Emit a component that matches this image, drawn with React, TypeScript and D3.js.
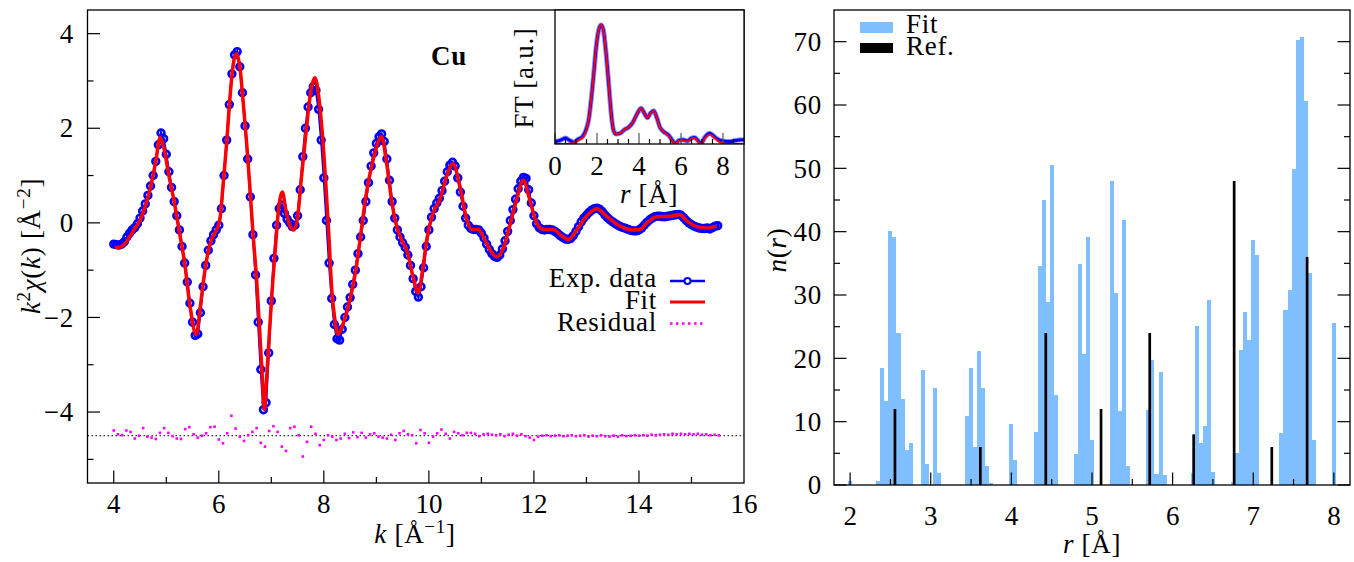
import React from 'react';
import * as d3 from 'd3';

const W = 1354, H = 562;
const serif = '"Liberation Serif", "Times New Roman", serif';

// k^2 chi(k), experimental, k = 4.00 .. 15.50 step 0.05
const kStart = 4.0, kStep = 0.05;
const expChi = [
  -0.45, -0.46, -0.47, -0.45, -0.40, -0.30, -0.22, -0.15, -0.10, -0.02,
  0.10, 0.25, 0.40, 0.58, 0.78, 1.00, 1.30, 1.65, 1.90, 1.78,
  1.45, 1.08, 0.75, 0.45, 0.15, -0.15, -0.50, -0.85, -1.25, -1.70,
  -2.10, -2.38, -2.35, -1.90, -1.35, -0.90, -0.58, -0.38, -0.25, -0.15,
  -0.05, 0.30, 1.00, 1.75, 2.50, 3.15, 3.55, 3.62, 3.30, 2.75,
  2.05, 1.35, 0.55, -0.25, -1.10, -2.10, -3.10, -3.95, -3.80, -2.75,
  -1.65, -0.75, -0.05, 0.30, 0.38, 0.20, 0.08, 0.00, -0.08, -0.05,
  0.15, 0.70, 1.40, 2.00, 2.45, 2.75, 2.88, 2.80, 2.40, 1.75,
  0.95, 0.05, -0.85, -1.60, -2.15, -2.45, -2.48, -2.25, -2.00, -1.78,
  -1.58, -1.30, -1.00, -0.65, -0.30, 0.05, 0.45, 0.85, 1.20, 1.48,
  1.68, 1.82, 1.88, 1.72, 1.35, 0.90, 0.45, 0.10, -0.15, -0.30,
  -0.42, -0.52, -0.68, -0.90, -1.18, -1.45, -1.57, -1.35, -0.95, -0.50,
  -0.15, 0.12, 0.30, 0.42, 0.52, 0.68, 0.88, 1.08, 1.22, 1.28,
  1.20, 0.95, 0.65, 0.35, 0.10, -0.05, -0.12, -0.14, -0.14, -0.15,
  -0.22, -0.32, -0.45, -0.56, -0.65, -0.71, -0.73, -0.68, -0.55, -0.38,
  -0.18, 0.05, 0.28, 0.50, 0.72, 0.88, 0.96, 0.94, 0.70, 0.42,
  0.15, -0.02, -0.10, -0.14, -0.15, -0.14, -0.14, -0.15, -0.18, -0.22,
  -0.27, -0.31, -0.34, -0.35, -0.33, -0.27, -0.18, -0.08, 0.02, 0.10,
  0.16, 0.22, 0.27, 0.30, 0.31, 0.29, 0.24, 0.17, 0.11, 0.06,
  0.02, -0.02, -0.05, -0.08, -0.10, -0.12, -0.14, -0.16, -0.17, -0.17,
  -0.15, -0.11, -0.05, 0.01, 0.06, 0.10, 0.13, 0.14, 0.14, 0.13,
  0.13, 0.14, 0.15, 0.16, 0.17, 0.18, 0.16, 0.11, 0.05, 0.00,
  -0.04, -0.07, -0.09, -0.11, -0.12, -0.12, -0.11, -0.13, -0.10, -0.07,
  -0.06,
];

// fit curve [k, k^2 chi]
const fitChi: [number, number][] = [
  [4.02, -0.52], [4.1, -0.52], [4.2, -0.45], [4.3, -0.3], [4.4, -0.12], [4.5, 0.05], [4.6, 0.35],
  [4.7, 0.75], [4.8, 1.3], [4.88, 1.8], [4.95, 1.6], [5.05, 1.0], [5.15, 0.45], [5.25, -0.2],
  [5.35, -0.85], [5.45, -1.75], [5.57, -2.36], [5.65, -1.75], [5.73, -1.05], [5.8, -0.6],
  [5.88, -0.3], [5.96, -0.14], [6.02, 0.07], [6.08, 0.78], [6.15, 1.69], [6.21, 2.61],
  [6.27, 3.31], [6.33, 3.58], [6.4, 3.31], [6.46, 2.61], [6.53, 1.69], [6.59, 0.78],
  [6.65, -0.2], [6.72, -1.2], [6.78, -2.3], [6.84, -3.5], [6.87, -3.95], [6.91, -3.3],
  [6.97, -2.2], [7.03, -1.2], [7.08, -0.5], [7.13, 0.2], [7.21, 0.65], [7.28, 0.25],
  [7.35, -0.05], [7.43, -0.15], [7.51, 0.21], [7.57, 0.92], [7.66, 1.9], [7.73, 2.61],
  [7.83, 3.07], [7.91, 2.61], [7.97, 1.9], [8.04, 0.78], [8.1, -0.35], [8.15, -1.4],
  [8.21, -2.05], [8.27, -2.36], [8.37, -2.12], [8.5, -1.62], [8.62, -0.92], [8.69, -0.35],
  [8.81, 0.63], [8.94, 1.34], [9.05, 1.75], [9.1, 1.82], [9.19, 1.3], [9.3, 0.4],
  [9.4, -0.12], [9.5, -0.4], [9.6, -0.65], [9.7, -1.15], [9.8, -1.48], [9.88, -1.0],
  [9.96, -0.35], [10.08, 0.21], [10.21, 0.49], [10.34, 0.99], [10.46, 1.25], [10.59, 0.78],
  [10.72, 0.07], [10.81, -0.14], [10.94, -0.14], [11.03, -0.28], [11.16, -0.56],
  [11.29, -0.72], [11.41, -0.56], [11.54, -0.07], [11.67, 0.49], [11.8, 0.9], [11.92, 0.49],
  [12.05, 0], [12.18, -0.14], [12.37, -0.14], [12.53, -0.28], [12.66, -0.35], [12.82, -0.14],
  [13.0, 0.14], [13.2, 0.3], [13.38, 0.14], [13.64, -0.07], [13.89, -0.15], [14.02, -0.14],
  [14.15, 0], [14.34, 0.13], [14.59, 0.14], [14.78, 0.17], [14.91, 0.04], [15.1, -0.08],
  [15.29, -0.11], [15.48, -0.07],
];

// residual, k = 4.00 .. 15.52 step 0.08, plotted around -4.5
const resStart = 4.0, resStep = 0.08, resOffset = -4.5;
const residual = [
  0.11, 0.03, 0.01, 0.11, 0.08, -0.06, 0.00, 0.16, -0.02, -0.04,
  -0.07, 0.06, 0.16, 0.06, -0.01, -0.06, -0.07, 0.14, 0.18, 0.03,
  -0.04, 0.00, 0.05, 0.18, 0.19, -0.08, -0.16, 0.05, 0.42, 0.15,
  -0.02, -0.11, 0.01, 0.08, 0.16, -0.15, -0.23, 0.10, 0.20, 0.08,
  -0.23, -0.32, 0.16, 0.19, 0.01, -0.44, -0.13, 0.19, 0.04, -0.20,
  -0.09, 0.01, -0.02, -0.09, -0.06, 0.04, -0.05, 0.07, -0.03, 0.06,
  -0.04, 0.03, 0.05, -0.02, -0.04, -0.06, 0.02, -0.09, 0.05, 0.10,
  0.03, 0.01, -0.16, 0.12, 0.05, -0.15, -0.02, 0.05, 0.13, 0.04,
  -0.06, 0.08, 0.05, 0.01, 0.06, 0.06, 0.04, -0.01, 0.03, 0.04,
  0.02, 0.01, 0.03, -0.01, 0.02, 0.04, 0.00, 0.03, -0.01, -0.04,
  -0.09, -0.02, 0.00, 0.01, -0.01, 0.00, 0.01, -0.01, 0.00, 0.01,
  -0.01, 0.00, 0.01, -0.02, 0.00, -0.01, 0.01, -0.01, -0.02, 0.00,
  -0.02, 0.01, -0.01, 0.00, 0.01, 0.00, 0.01, 0.00, 0.02, 0.01,
  0.02, 0.03, 0.02, 0.04, 0.03, 0.04, 0.03, 0.04, 0.03, 0.04,
  0.02, 0.03, 0.01, 0.02, 0.01,
];

// inset: Fourier transform magnitude
const ftExp: [number, number][] = [
  [0, 0.02], [0.25, 0.03], [0.5, 0.05], [0.7, 0.03], [0.9, 0.015], [1.1, 0.04], [1.3, 0.06],
  [1.5, 0.13], [1.6, 0.2], [1.73, 0.385], [1.85, 0.6], [1.97, 0.83], [2.1, 0.97], [2.2, 1.0],
  [2.3, 0.96], [2.44, 0.75], [2.56, 0.5], [2.68, 0.25], [2.78, 0.12], [2.9, 0.085], [3.1, 0.09],
  [3.3, 0.12], [3.5, 0.14], [3.7, 0.18], [3.9, 0.25], [4.1, 0.3], [4.25, 0.26], [4.4, 0.22],
  [4.55, 0.26], [4.7, 0.28], [4.85, 0.22], [5.0, 0.14], [5.2, 0.1], [5.4, 0.075], [5.55, 0.04],
  [5.73, 0.005], [5.9, 0.03], [6.1, 0.035], [6.3, 0.025], [6.5, 0.05], [6.65, 0.055],
  [6.8, 0.03], [6.95, 0.005], [7.15, 0.06], [7.37, 0.09], [7.6, 0.06], [7.8, 0.035],
  [8.0, 0.025], [8.3, 0.02], [8.6, 0.03], [9.0, 0.035],
];
const ftFit: [number, number][] = [
  [0, 0.0], [0.4, 0.0], [0.8, 0.005], [1.0, 0.02], [1.2, 0.04], [1.35, 0.06], [1.5, 0.12],
  [1.6, 0.2], [1.73, 0.385], [1.85, 0.6], [1.97, 0.83], [2.1, 0.97], [2.2, 1.0], [2.3, 0.96],
  [2.44, 0.75], [2.56, 0.5], [2.68, 0.25], [2.78, 0.12], [2.9, 0.085], [3.1, 0.09], [3.3, 0.12],
  [3.5, 0.14], [3.7, 0.18], [3.9, 0.25], [4.1, 0.3], [4.25, 0.26], [4.4, 0.22], [4.55, 0.26],
  [4.7, 0.28], [4.85, 0.22], [5.0, 0.14], [5.2, 0.1], [5.4, 0.07], [5.55, 0.035], [5.73, 0.0],
  [5.9, 0.025], [6.1, 0.03], [6.3, 0.02], [6.5, 0.045], [6.65, 0.05], [6.8, 0.02], [6.95, 0.0],
  [7.15, 0.05], [7.37, 0.08], [7.6, 0.05], [7.8, 0.02], [8.0, 0.005], [8.3, 0.0], [9.0, 0.0],
];

// right panel: histogram of distances
const fitR = [
  2.00, 2.35, 2.40, 2.45, 2.50, 2.55, 2.60, 2.65, 2.70, 2.75, 2.90, 2.95, 3.05, 3.10,
  3.45, 3.50, 3.55, 3.60, 3.65, 3.70, 3.75, 4.00, 4.05, 4.30, 4.35, 4.40, 4.45, 4.50, 4.55,
  4.80, 4.85, 4.90, 4.95, 5.00, 5.25, 5.30, 5.35, 5.40, 5.45, 5.70, 5.75, 5.80, 5.85, 5.90,
  6.25, 6.30, 6.35, 6.40, 6.45, 6.50, 6.75, 6.80, 6.85, 6.90, 6.95, 7.00, 7.05,
  7.35, 7.40, 7.45, 7.50, 7.55, 7.60, 7.65, 7.70, 7.75, 8.00,
];
const fitN = [
  0.6, 0.6, 18.5, 13.3, 40.1, 39.2, 24.0, 13.6, 5.5, 6.6, 18.2, 3.3, 15.3, 1.9,
  10.9, 18.5, 6.0, 21.2, 15.3, 3.0, 0.3, 9.6, 3.9, 8.4, 34.6, 45.0, 28.9, 50.5, 14.2,
  4.9, 34.9, 20.7, 39.2, 7.1, 48.0, 30.3, 11.7, 41.9, 3.0, 11.8, 19.7, 1.7, 17.9, 1.6,
  1.9, 25.1, 6.6, 9.3, 29.2, 2.05, 0.5, 5.05, 21.3, 27.3, 22.9, 38.7, 36.3,
  8.2, 27.6, 30.8, 49.9, 70.3, 70.8, 60.6, 33.5, 7.1, 25.6,
];
const binWidth = 0.05;
const refR = [2.556, 3.615, 4.427, 5.112, 5.716, 6.261, 6.763, 7.23, 7.668];
const refN = [12, 6, 24, 12, 24, 8, 48, 6, 36];

const leftXMajor = [4, 6, 8, 10, 12, 14, 16];
const leftXMinor = [5, 7, 9, 11, 13, 15];
const leftYMajor = [-4, -2, 0, 2, 4];
const leftYMinor = [-5, -3, -1, 1, 3];
const rightXMajor = [2, 3, 4, 5, 6, 7, 8];
const rightXMinor = [2.5, 3.5, 4.5, 5.5, 6.5, 7.5];
const rightYMajor = [0, 10, 20, 30, 40, 50, 60, 70];
const rightYMinor = [5, 15, 25, 35, 45, 55, 65];
const insetXMajor = [0, 2, 4, 6, 8];
const insetXMinor = [0.5, 1, 1.5, 2.5, 3, 3.5, 4.5, 5, 5.5, 6.5, 7, 7.5, 8.5];

const fmt = (v: number) => (v < 0 ? '\u2212' + Math.abs(v) : String(v));

const BLUE = '#0000ff', RED = '#ff0000', MAG = '#ff00ff', HIST = '#80bfff';

export default function App() {
  // left panel
  const xL = d3.scaleLinear().domain([3.5, 16]).range([87.5, 744]);
  const yL = d3.scaleLinear().domain([-5.5, 4.5]).range([483, 10]);
  // inset
  const xI = d3.scaleLinear().domain([0, 9]).range([555, 744]);
  const yI = d3.scaleLinear().domain([0, 1.126]).range([144, 10]);
  // right panel
  const xR = d3.scaleLinear().domain([1.8, 8.2]).range([834, 1350]);
  const yR = d3.scaleLinear().domain([0, 75]).range([485, 10]);

  const expPts = expChi.map((v, i) => [kStart + i * kStep, v] as [number, number]);
  const resPts = residual.map((v, i) => [resStart + i * resStep, resOffset + v] as [number, number]);

  const expLine = d3.line<[number, number]>().x(d => xL(d[0])).y(d => yL(d[1]));
  const fitLine = d3.line<[number, number]>().x(d => xL(d[0])).y(d => yL(d[1])).curve(d3.curveMonotoneX);
  const ftLine = d3.line<[number, number]>().x(d => xI(d[0])).y(d => yI(d[1])).curve(d3.curveMonotoneX);

  const txt = { fontFamily: serif, fontSize: 27, fill: '#000' } as const;
  const word = { ...txt, letterSpacing: 0.7 } as const;
  const major = 12.5, minor = 6;

  return (
    <svg width={W} height={H} style={{ position: 'absolute', left: 0, top: 0, background: '#fff' }}>
      <rect x={0} y={0} width={W} height={H} fill="#fff" />

      {/* ===== left panel ===== */}
      <line x1={xL(3.5)} x2={xL(16)} y1={yL(-4.5)} y2={yL(-4.5)} stroke="#000" strokeWidth={1} strokeDasharray="1.5,2.5" />
      {resPts.map((d, i) => (
        <rect key={'r' + i} x={xL(d[0]) - 1.3} y={yL(d[1]) - 1.3} width={2.6} height={2.6} fill={MAG} />
      ))}
      <path d={expLine(expPts) || ''} fill="none" stroke={BLUE} strokeWidth={2.4} />
      {expPts.map((d, i) => (
        <circle key={'e' + i} cx={xL(d[0])} cy={yL(d[1])} r={3.4} fill="none" stroke={BLUE} strokeWidth={2.6} />
      ))}
      <path d={fitLine(fitChi) || ''} fill="none" stroke={RED} strokeWidth={3.5} strokeLinejoin="round" />

      {/* left axes ticks */}
      {leftYMajor.map(v => (
        <g key={'ly' + v}>
          <line x1={xL(3.5)} x2={xL(3.5) + major} y1={yL(v)} y2={yL(v)} stroke="#000" strokeWidth={1.2} />
          <text x={74} y={yL(v)} dy="0.34em" textAnchor="end" style={word}>{fmt(v)}</text>
        </g>
      ))}
      {leftYMinor.map(v => (
        <line key={'lym' + v} x1={xL(3.5)} x2={xL(3.5) + minor} y1={yL(v)} y2={yL(v)} stroke="#000" strokeWidth={1.2} />
      ))}
      {leftXMajor.map(v => (
        <g key={'lx' + v}>
          {v < 16 && <line x1={xL(v)} x2={xL(v)} y1={yL(-5.5)} y2={yL(-5.5) - major} stroke="#000" strokeWidth={1.2} />}
          <text x={xL(v)} y={513} textAnchor="middle" style={txt}>{v}</text>
        </g>
      ))}
      {leftXMinor.map(v => (
        <line key={'lxm' + v} x1={xL(v)} x2={xL(v)} y1={yL(-5.5)} y2={yL(-5.5) - minor} stroke="#000" strokeWidth={1.2} />
      ))}
      <rect x={xL(3.5)} y={yL(4.5)} width={xL(16) - xL(3.5)} height={yL(-5.5) - yL(4.5)} fill="none" stroke="#000" strokeWidth={1.3} />

      <text x={415} y={543} textAnchor="middle" style={word}>
        <tspan fontStyle="italic">k</tspan> [Å<tspan fontSize={19} dy={-10}>{'\u2212'}1</tspan><tspan dy={10}>]</tspan>
      </text>
      <text transform="translate(40,246) rotate(-90)" textAnchor="middle" style={word}>
        <tspan fontStyle="italic">k</tspan><tspan fontSize={19} dy={-10}>2</tspan><tspan dy={10} fontStyle="italic">χ</tspan>(<tspan fontStyle="italic">k</tspan>) [Å<tspan fontSize={19} dy={-10}>{'\u2212'}2</tspan><tspan dy={10}>]</tspan>
      </text>
      <text x={449} y={65} textAnchor="middle" style={{ ...word, fontWeight: 'bold' }}>Cu</text>

      {/* left legend */}
      <text x={657} y={287} textAnchor="end" style={word}>Exp. data</text>
      <line x1={670} x2={705} y1={281} y2={281} stroke={BLUE} strokeWidth={2.5} />
      <circle cx={687.5} cy={281} r={3} fill="#fff" stroke={BLUE} strokeWidth={2} />
      <text x={657} y={309} textAnchor="end" style={word}>Fit</text>
      <line x1={670} x2={705} y1={302} y2={302} stroke={RED} strokeWidth={3} />
      <text x={657} y={330.5} textAnchor="end" style={word}>Residual</text>
      <line x1={670} x2={705} y1={323.5} y2={323.5} stroke={MAG} strokeWidth={2.5} strokeDasharray="2.5,3.5" />

      {/* ===== inset ===== */}
      <rect x={xI(0)} y={yI(1.126)} width={xI(9) - xI(0)} height={yI(0) - yI(1.126)} fill="#fff" />
      <defs>
        <clipPath id="insetClip">
          <rect x={xI(0)} y={yI(1.126)} width={xI(9) - xI(0)} height={yI(0) - yI(1.126)} />
        </clipPath>
      </defs>
      <g clipPath="url(#insetClip)">
        <path d={ftLine(ftExp) || ''} fill="none" stroke={BLUE} strokeOpacity={0.45} strokeWidth={5} />
        <path d={ftLine(ftExp) || ''} fill="none" stroke={BLUE} strokeWidth={3} />
        <path d={ftLine(ftFit) || ''} fill="none" stroke={RED} strokeWidth={2} />
      </g>
      {insetXMajor.map(v => (
        <g key={'ix' + v}>
          <line x1={xI(v)} x2={xI(v)} y1={yI(0)} y2={yI(0) - 11} stroke="#555" strokeWidth={1.2} />
          <text x={xI(v)} y={175} textAnchor="middle" style={txt}>{v}</text>
        </g>
      ))}
      {insetXMinor.map(v => (
        <line key={'ixm' + v} x1={xI(v)} x2={xI(v)} y1={yI(0)} y2={yI(0) - 5} stroke="#000" strokeWidth={1.2} />
      ))}
      <rect x={xI(0)} y={yI(1.126)} width={xI(9) - xI(0)} height={yI(0) - yI(1.126)} fill="none" stroke="#000" strokeWidth={1.3} />
      <text x={649} y={203} textAnchor="middle" style={word}>
        <tspan fontStyle="italic">r</tspan> [Å]
      </text>
      <text transform="translate(533,78) rotate(-90)" textAnchor="middle" style={word}>FT [a.u.]</text>

      {/* ===== right panel ===== */}
      {fitR.map((r, i) => (
        <rect key={'h' + i} x={xR(r - binWidth / 2)} y={yR(fitN[i])} width={xR(r + binWidth / 2) - xR(r - binWidth / 2)}
          height={yR(0) - yR(fitN[i])} fill={HIST} shapeRendering="crispEdges" />
      ))}
      {refR.map((r, i) => (
        <rect key={'f' + i} x={xR(r) - 1.35} y={yR(refN[i])} width={2.7} height={yR(0) - yR(refN[i])} fill="#000" />
      ))}
      {rightYMajor.map(v => (
        <g key={'ry' + v}>
          <line x1={xR(1.8)} x2={xR(1.8) + major} y1={yR(v)} y2={yR(v)} stroke="#000" strokeWidth={1.2} />
          <line x1={xR(8.2)} x2={xR(8.2) - major} y1={yR(v)} y2={yR(v)} stroke="#000" strokeWidth={1.2} />
          <text x={822} y={yR(v)} dy="0.34em" textAnchor="end" style={word}>{v}</text>
        </g>
      ))}
      {rightYMinor.map(v => (
        <g key={'rym' + v}>
          <line x1={xR(1.8)} x2={xR(1.8) + minor} y1={yR(v)} y2={yR(v)} stroke="#000" strokeWidth={1.2} />
          <line x1={xR(8.2)} x2={xR(8.2) - minor} y1={yR(v)} y2={yR(v)} stroke="#000" strokeWidth={1.2} />
        </g>
      ))}
      {rightXMajor.map(v => (
        <g key={'rx' + v}>
          <line x1={xR(v)} x2={xR(v)} y1={yR(0)} y2={yR(0) - major} stroke="#000" strokeWidth={1.2} />
          <text x={xR(v)} y={525} textAnchor="middle" style={txt}>{v}</text>
        </g>
      ))}
      {rightXMinor.map(v => (
        <line key={'rxm' + v} x1={xR(v)} x2={xR(v)} y1={yR(0)} y2={yR(0) - minor} stroke="#000" strokeWidth={1.2} />
      ))}
      <rect x={xR(1.8)} y={yR(75)} width={xR(8.2) - xR(1.8)} height={yR(0) - yR(75)} fill="none" stroke="#000" strokeWidth={1.3} />

      <text x={1092} y={553} textAnchor="middle" style={word}>
        <tspan fontStyle="italic">r</tspan> [Å]
      </text>
      <text transform="translate(786,250) rotate(-90)" textAnchor="middle" style={word}>
        <tspan fontStyle="italic">n</tspan>(<tspan fontStyle="italic">r</tspan>)
      </text>

      {/* right legend */}
      <rect x={860} y={22} width={33} height={11} fill={HIST} />
      <text x={906} y={33} style={word}>Fit</text>
      <rect x={860} y={43} width={33} height={10} fill="#000" />
      <text x={906} y={55} style={word}>Ref.</text>
    </svg>
  );
}
